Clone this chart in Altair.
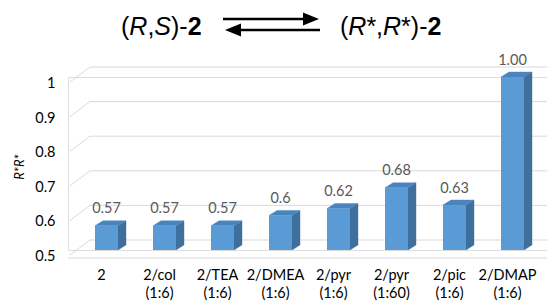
import altair as alt
import pandas as pd

# ---------------- data ----------------
categories = ["2", "2/col\n(1:6)", "2/TEA\n(1:6)", "2/DMEA\n(1:6)", "2/pyr\n(1:6)",
              "2/pyr\n(1:60)", "2/pic\n(1:6)", "2/DMAP\n(1:6)"]
values = [0.57, 0.57, 0.57, 0.60, 0.62, 0.68, 0.63, 1.00]
value_labels = ["0.57", "0.57", "0.57", "0.6", "0.62", "0.68", "0.63", "1.00"]
y_ticks = [0.5, 0.6, 0.7, 0.8, 0.9, 1.0]
y_tick_labels = ["0.5", "0.6", "0.7", "0.8", "0.9", "1"]
y_title = "R*R*"

# ---------------- layout / style ----------------
W, H = 479, 173
STEP = 58.0                      # px per category
X0 = -(106.5 - 68) / STEP
X1 = X0 + W / STEP
YMIN, YMAX = 0.5, 1.0
PX_PER_Y = H / (YMAX - YMIN)
HW = 11.5 / STEP                 # half width of bar front face
DX = 8.0 / STEP                  # depth, x
DY = 5.0 / PX_PER_Y              # depth, y

FRONT, SIDE, TOP = "#5B9BD5", "#3F6F9C", "#4A84BE"
GRID = "#D9D9D9"
FONT = "Lato"
TFONT = "Liberation Sans"

xs = alt.Scale(domain=[X0, X1], nice=False, zero=False)
ys = alt.Scale(domain=[YMIN, YMAX], nice=False, zero=False)

idx = list(range(len(categories)))
bars = pd.DataFrame({"i": idx, "cat": categories, "v": values, "vl": value_labels})
bars["x0"] = bars["i"] - HW
bars["x1"] = bars["i"] + HW
bars["base"] = YMIN

side_rows, top_rows = [], []
for i, v in zip(idx, values):
    side_rows.append({"k": i, "x": i + HW, "y": v, "y2": YMIN})
    side_rows.append({"k": i, "x": i + HW + DX, "y": v + DY, "y2": YMIN + DY})
    top_rows.append({"k": i, "x": i - HW, "y": v, "y2": v})
    top_rows.append({"k": i, "x": i - HW + DX, "y": v + DY, "y2": v})
    top_rows.append({"k": i, "x": i + HW, "y": v + DY, "y2": v})
    top_rows.append({"k": i, "x": i + HW + DX, "y": v + DY, "y2": v + DY})
side = pd.DataFrame(side_rows)
top = pd.DataFrame(top_rows)
ticks = pd.DataFrame({"t": y_ticks, "lab": y_tick_labels})
one = pd.DataFrame({"a": [0]})

X = lambda f: alt.X(f, type="quantitative", scale=xs, axis=None)
Y = lambda f: alt.Y(f, type="quantitative", scale=ys, axis=None)

layers = []
# back-wall gridlines
layers.append(alt.Chart(ticks).mark_rule(color=GRID, strokeWidth=1, yOffset=-10).encode(
    y=Y("t"), x=alt.value(22), x2=alt.value(W)))
# side-wall diagonals
layers.append(alt.Chart(ticks).mark_rule(color=GRID, strokeWidth=1, yOffset=5, y2Offset=-10).encode(
    y=Y("t"), y2=alt.Y2("t"), x=alt.value(2), x2=alt.value(22)))
# front baseline
layers.append(alt.Chart(one).mark_rule(color=GRID, strokeWidth=1, yOffset=8).encode(
    y=alt.datum(YMIN, scale=ys, axis=None), x=alt.value(0), x2=alt.value(W)))
# tick labels
layers.append(alt.Chart(ticks).mark_text(align="right", baseline="middle", dy=7, font=FONT,
                                         fontSize=14.5, color="#000000").encode(
    y=Y("t"), x=alt.value(-12.5), text="lab:N"))
# y title
layers.append(alt.Chart(one).mark_text(angle=270, align="center", baseline="middle", font=FONT,
                                       fontSize=13, fontStyle="italic", color="#000000").encode(
    x=alt.value(-48), y=alt.value(90), text=alt.value(y_title)))
# bars: side, top, front
layers.append(alt.Chart(side).mark_area(orient="vertical", color=SIDE, stroke=SIDE, strokeWidth=0.4).encode(
    x=X("x"), y=Y("y"), y2=alt.Y2("y2"), detail="k:N"))
layers.append(alt.Chart(top).mark_area(orient="vertical", color=TOP, stroke=TOP, strokeWidth=0.4).encode(
    x=X("x"), y=Y("y"), y2=alt.Y2("y2"), detail="k:N"))
layers.append(alt.Chart(bars).mark_rect(color=FRONT).encode(
    x=X("x0"), x2=alt.X2("x1"), y=Y("v"), y2=alt.Y2("base")))
# value labels
layers.append(alt.Chart(bars).mark_text(baseline="middle", dy=-16.5, font=FONT, fontSize=14.5,
                                        color="#595959").encode(
    x=X("i"), y=Y("v"), text="vl:N"))
# category labels
layers.append(alt.Chart(bars).mark_text(baseline="top", lineBreak="\n", lineHeight=18, dx=-5,
                                        font=FONT, fontSize=14.5, color="#000000").encode(
    x=X("i"), y=alt.value(192), text="cat:N"))

# ---------------- title: (R,S)-2  <=>  (R*,R*)-2 ----------------
FS = 25
AW = {"(": 333, ")": 333, "R": 722, "S": 667, ",": 278, "-": 333, "*": 389, "2": 556}
def pieces(parts, start):
    out, x = [], start
    for txt, style, weight in parts:
        out.append((txt, x, style, weight))
        x += sum(AW[c] for c in txt) * FS / 1000.0
    return out

left_parts = [("(", "normal", "normal"), ("R", "italic", "normal"), (",", "normal", "normal"),
              ("S", "italic", "normal"), (")-", "normal", "normal"), ("2", "normal", "bold")]
right_parts = [("(", "normal", "normal"), ("R", "italic", "normal"), ("*", "normal", "normal"),
               (",", "normal", "normal"), ("R", "italic", "normal"), ("*", "normal", "normal"),
               (")-", "normal", "normal"), ("2", "normal", "bold")]
TB = -42.5
for txt, px, st, wt in pieces(left_parts, 53) + pieces(right_parts, 272):
    layers.append(alt.Chart(one).mark_text(align="left", baseline="alphabetic", font=TFONT, fontSize=FS,
                                           fontStyle=st, fontWeight=wt, color="#000000").encode(
        x=alt.value(px), y=alt.value(TB), text=alt.value(txt)))

# equilibrium arrows
layers.append(alt.Chart(one).mark_rule(color="#000000", strokeWidth=2.7).encode(
    x=alt.value(155), x2=alt.value(244), y=alt.value(-58)))
layers.append(alt.Chart(one).mark_point(shape="M-1,-0.8L1,0L-1,0.8Z", filled=True, size=256,
                                        color="#000000", opacity=1, strokeWidth=0).encode(
    x=alt.value(243), y=alt.value(-58)))
layers.append(alt.Chart(one).mark_rule(color="#000000", strokeWidth=2.7).encode(
    x=alt.value(164), x2=alt.value(252), y=alt.value(-47)))
layers.append(alt.Chart(one).mark_point(shape="M1,-0.8L-1,0L1,0.8Z", filled=True, size=256,
                                        color="#000000", opacity=1, strokeWidth=0).encode(
    x=alt.value(165), y=alt.value(-47)))

chart = alt.layer(*layers).properties(
    width=W, height=H,
    autosize=alt.AutoSizeParams(type="none"),
    padding={"left": 60, "top": 69, "right": 0, "bottom": 54},
).configure_view(stroke=None).configure(background="white")

chart.save("out.html", embed_options={"renderer": "svg", "actions": False})
